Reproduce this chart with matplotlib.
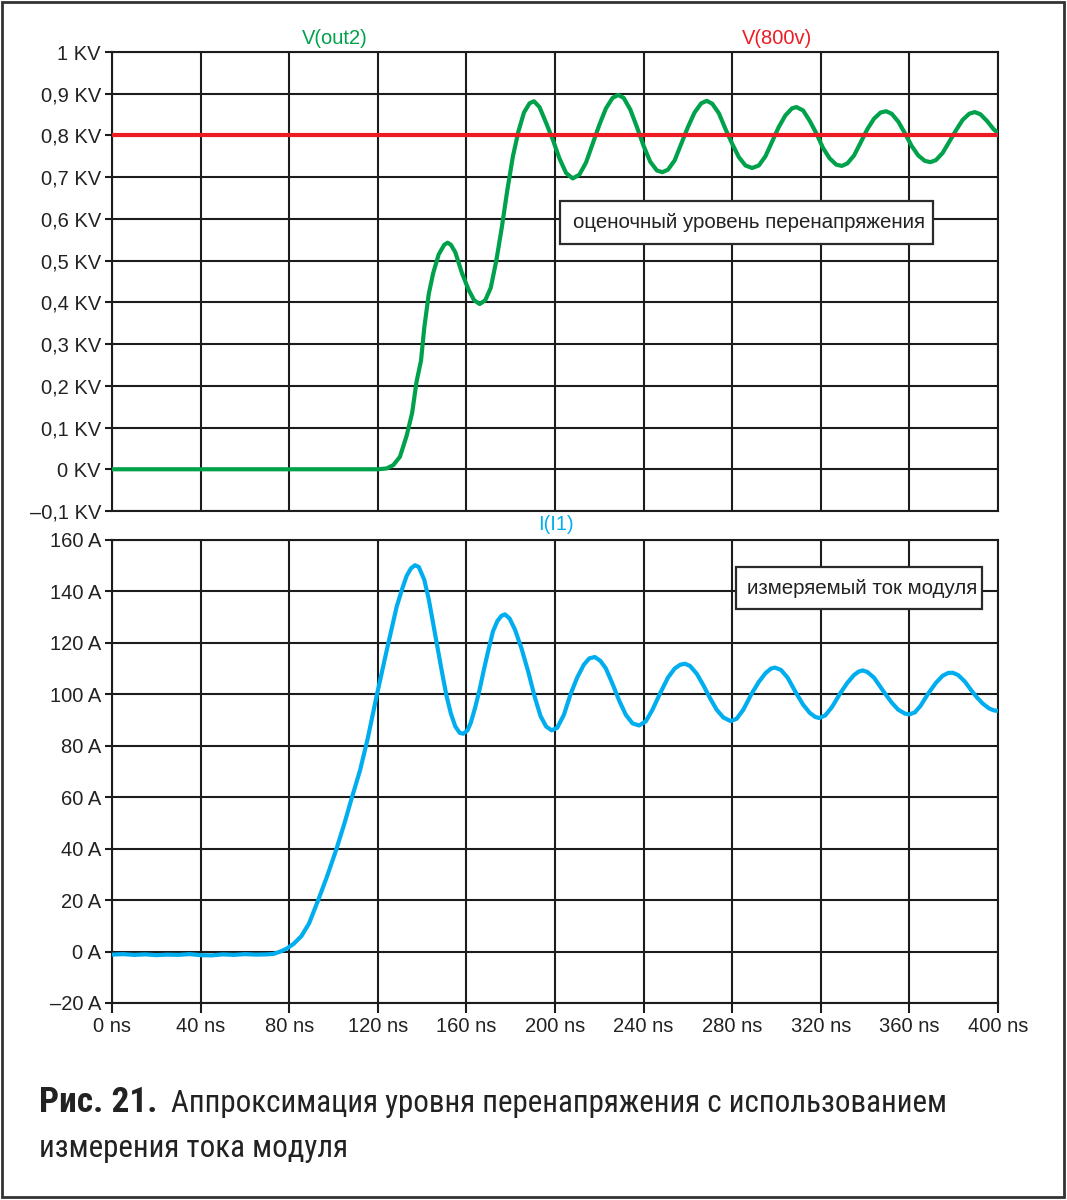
import matplotlib
matplotlib.use('Agg')
import matplotlib.pyplot as plt
from matplotlib.patches import Rectangle
from matplotlib import font_manager

# ---------------- data ----------------
t_v = [0, 40, 80, 120, 124, 127, 130, 133, 135.5, 137.5, 139.5, 141, 143, 145, 147.5, 150, 151.5,
       153, 155, 158, 161, 163.5, 166, 168.5, 171, 173.5, 176, 178.5, 181, 183.5, 186, 188.5,
       190.5, 193, 196, 199, 202, 205, 208, 211, 214, 217, 220, 223, 226, 228.5, 231, 234, 237,
       240, 243, 246, 248.5, 251, 254, 257, 260, 263, 266, 268.5, 271, 274, 277, 280, 283, 286,
       289, 292, 295, 298, 301, 304, 307, 309, 312, 315, 318, 321, 324, 327, 329.5, 332, 335,
       338, 341, 344, 347, 349.5, 352, 355, 358, 361, 364, 367, 369.5, 372, 375, 378, 381, 384,
       387, 389.5, 392, 395, 398, 400]
v_out2 = [0, 0, 0, 0, 0.002, 0.01, 0.03, 0.08, 0.135, 0.21, 0.26, 0.34, 0.42, 0.47, 0.515, 0.538,
          0.543, 0.538, 0.52, 0.47, 0.43, 0.405, 0.396, 0.405, 0.435, 0.5, 0.58, 0.67, 0.75, 0.81,
          0.855, 0.877, 0.882, 0.868, 0.83, 0.79, 0.745, 0.71, 0.697, 0.706, 0.735, 0.78, 0.825,
          0.865, 0.89, 0.897, 0.89, 0.862, 0.82, 0.775, 0.737, 0.716, 0.712, 0.718, 0.74, 0.78,
          0.82, 0.855, 0.877, 0.883, 0.876, 0.853, 0.815, 0.78, 0.748, 0.728, 0.722, 0.728, 0.75,
          0.785, 0.82, 0.848, 0.865, 0.868, 0.86, 0.835, 0.805, 0.77, 0.745, 0.73, 0.727, 0.733,
          0.752, 0.783, 0.815, 0.84, 0.855, 0.858, 0.852, 0.833, 0.805, 0.775, 0.752, 0.739,
          0.736, 0.741, 0.758, 0.785, 0.812, 0.837, 0.852, 0.856, 0.851, 0.835, 0.815, 0.806]
v_800v = 0.8  # KV

t_i = [0, 5, 10, 15, 20, 25, 30, 35, 40, 45, 50, 55, 60, 65, 70, 73, 76, 79, 82, 85.5, 89, 93, 97,
       101, 105, 108, 112, 115.5, 119.5, 124, 128.5, 131, 133, 135, 136.8, 138.5, 141, 143, 145,
       147, 149, 151, 153, 155, 157, 158.6, 160.5, 162, 164, 166, 168, 170, 172, 174, 175.8,
       177.4, 179.5, 182, 185, 188, 191, 193.5, 196, 198.5, 201, 204, 207, 210, 213, 215.5, 218,
       220.5, 223, 226, 229, 232, 235, 238, 241, 244, 247.4, 251, 254, 256.5, 258.7, 261, 264,
       267, 270, 273, 276, 279.3, 282, 285, 288.8, 292, 295, 297.5, 299.3, 302, 305, 309, 312,
       315, 317.5, 319.3, 322, 325, 328.7, 332, 335, 337, 338.9, 341, 344, 349, 352, 355, 358,
       360, 362.5, 365, 368.5, 372, 375, 377.5, 379.5, 382, 385, 388, 390.4, 393, 396, 398, 400]
i_i1 = [-1.2, -1.0, -1.3, -1.1, -1.4, -1.2, -1.3, -1.0, -1.4, -1.5, -1.1, -1.3, -1.0, -1.2, -1.1,
        -0.9, 0, 1.2, 3, 6, 11, 19.8, 29, 39, 50, 59, 70.5, 83, 99.5, 117, 134, 141, 146, 149,
        150.2, 149.5, 144.5, 137, 127.5, 118, 108.5, 99.5, 92.5, 87.5, 85, 84.7, 86, 89, 95, 102,
        110, 117.5, 124.5, 128.5, 130.5, 131.1, 129.5, 125, 117.5, 108.5, 98.5, 91.5, 87.5, 86,
        87, 92, 100, 106.5, 111.5, 114, 114.5, 113, 110, 104, 97.5, 92, 88.7, 87.9, 89.5, 94,
        100.3, 106.5, 110, 111.5, 111.9, 111, 108, 103.5, 98.5, 94, 91, 89.6, 90.5, 94, 100.3,
        104.8, 108.2, 110, 110.4, 109.5, 106.5, 100.3, 96, 92.8, 91.2, 90.8, 91.8, 95, 100.3,
        104.5, 107.5, 108.8, 109.3, 108.7, 106.5, 100.3, 96.8, 94, 92.5, 92.2, 93, 95.5, 100.3,
        104.5, 107.2, 108.3, 108.4, 107.5, 105, 101.5, 98.9, 96.5, 94.5, 93.8, 93.5]

x_ticks = [0, 40, 80, 120, 160, 200, 240, 280, 320, 360, 400]
x_labels = ['0 ns', '40 ns', '80 ns', '120 ns', '160 ns', '200 ns', '240 ns', '280 ns',
            '320 ns', '360 ns', '400 ns']
v_ticks = [-0.1, 0, 0.1, 0.2, 0.3, 0.4, 0.5, 0.6, 0.7, 0.8, 0.9, 1.0]
v_labels = ['\u20130,1 KV', '0 KV', '0,1 KV', '0,2 KV', '0,3 KV', '0,4 KV', '0,5 KV',
            '0,6 KV', '0,7 KV', '0,8 KV', '0,9 KV', '1 KV']
i_ticks = [-20, 0, 20, 40, 60, 80, 100, 120, 140, 160]
i_labels = ['\u201320 A', '0 A', '20 A', '40 A', '60 A', '80 A', '100 A', '120 A', '140 A', '160 A']

note_v = 'оценочный уровень перенапряжения'
note_i = 'измеряемый ток модуля'
cap_bold = 'Рис. 21.'
cap_line1 = 'Аппроксимация уровня перенапряжения с использованием'
cap_line2 = 'измерения тока модуля'

# ---------------- style ----------------
GREEN = '#00a14b'
RED = '#ed1c24'
CYAN = '#00aeef'
GRID = '#1c1c1c'
TXT = '#222222'
FS = 14.5
FS_NOTE = 14.8

plt.rcParams['font.family'] = ['Liberation Sans', 'DejaVu Sans']

W, H = 1067, 1200
fig = plt.figure(figsize=(W / 100, H / 100), dpi=100)


def fx(px):
    return px / W


def fy(py):
    return 1 - py / H


ax1 = fig.add_axes([fx(112), fy(511), fx(998) - fx(112), fy(52) - fy(511)])
ax2 = fig.add_axes([fx(112), fy(1003), fx(998) - fx(112), fy(540) - fy(1003)])

for ax in (ax1, ax2):
    ax.set_axisbelow(True)
    ax.grid(True, color=GRID, lw=1.5)
    for s in ax.spines.values():
        s.set_color(GRID)
        s.set_linewidth(1.5)
    ax.set_xlim(0, 400)
    ax.set_xticks(x_ticks)
    ax.tick_params(axis='y', length=5, width=1.5, color=GRID, pad=3, labelsize=FS,
                   labelcolor=TXT)

ax1.set_ylim(-0.1, 1.0)
ax1.set_yticks(v_ticks)
ax1.set_yticklabels(v_labels)
ax1.tick_params(axis='x', length=0, labelbottom=False)
ax1.plot(t_v, v_out2, color=GREEN, lw=3, solid_capstyle='butt', solid_joinstyle='round',
         zorder=3)
ax1.axhline(v_800v, color=RED, lw=3, zorder=4)

ax2.set_ylim(-20, 160)
ax2.set_yticks(i_ticks)
ax2.set_yticklabels(i_labels)
ax2.set_xticklabels(x_labels)
ax2.tick_params(axis='x', length=7, width=1.5, color=GRID, pad=3, labelsize=FS,
                labelcolor=TXT)
ax2.plot(t_i, i_i1, color=CYAN, lw=3, solid_capstyle='butt', solid_joinstyle='round',
         zorder=3)

# series titles
fig.text(fx(335), fy(38), 'V(out2)', color=GREEN, fontsize=FS, ha='center', va='center')
fig.text(fx(777), fy(38), 'V(800v)', color=RED, fontsize=FS, ha='center', va='center')
fig.text(fx(556), fy(524), 'I(I1)', color=CYAN, fontsize=FS, ha='center', va='center')


# annotation boxes
def note_box(x0, y0, x1, y1, tx, text):
    fig.patches.append(Rectangle((fx(x0), fy(y1)), fx(x1) - fx(x0), fy(y0) - fy(y1),
                                 transform=fig.transFigure, facecolor='white',
                                 edgecolor='#2a2a2a', lw=1.6, zorder=5))
    fig.text(fx(tx), fy((y0 + y1) / 2), text, fontsize=FS_NOTE, color=TXT, ha='left',
             va='center', zorder=6)


note_box(560, 201, 933, 244, 573, note_v)
note_box(736, 567, 982, 609, 747, note_i)

# outer frame
fig.patches.append(Rectangle((fx(2), fy(1197)), fx(1064) - fx(2), fy(2) - fy(1197),
                             transform=fig.transFigure, facecolor='none',
                             edgecolor='#333333', lw=2))

# caption
names = {f.name for f in font_manager.fontManager.ttflist}
cap_family = ['Liberation Sans', 'DejaVu Sans']
for cand in ['Liberation Sans Narrow', 'Roboto Condensed', 'Open Sans Condensed',
             'DejaVu Sans Condensed']:
    if cand in names:
        cap_family = [cand, 'DejaVu Sans']
        break

fig.canvas.draw()
r = fig.canvas.get_renderer()
base = 24
tb = fig.text(fx(39), fy(1112), cap_bold, fontsize=base, fontweight='heavy',
              family=cap_family, color=TXT, va='baseline')
t1 = fig.text(fx(171), fy(1112), cap_line1, fontsize=base, family=cap_family,
              color=TXT, va='baseline')
w1 = t1.get_window_extent(r).width
size = base * 777 / w1
t1.set_fontsize(size)
wb = tb.get_window_extent(r).width
tb.set_fontsize(base * 119 / wb)
fig.text(fx(39), fy(1157), cap_line2, fontsize=size, family=cap_family, color=TXT,
         va='baseline')

fig.savefig('out.png', dpi=100, facecolor='white')
